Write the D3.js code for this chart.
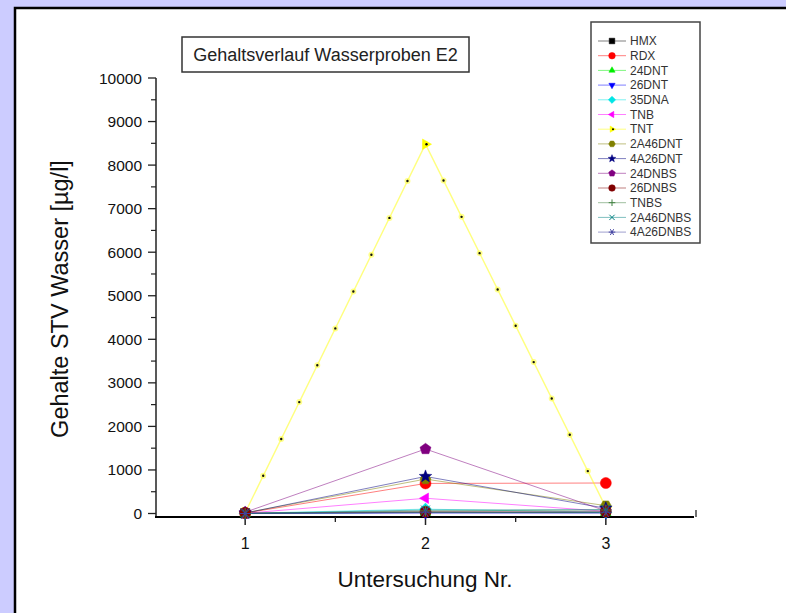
<!DOCTYPE html>
<html><head><meta charset="utf-8">
<script src="https://cdn.jsdelivr.net/npm/d3@7"></script>
<style>body{margin:0;background:#ccccff;}svg{display:block;font-family:"Liberation Sans",Arial,sans-serif;}</style>
</head><body>
<svg id="chart" width="786" height="613"></svg>
<script>
const title = "Gehaltsverlauf Wasserproben E2";
const xLabel = "Untersuchung Nr.";
const yLabel = "Gehalte STV Wasser [\u00b5g/l]";
const xValues = [1, 2, 3];
const xTicks = [1, 2, 3];
const yTicks = [0,1000,2000,3000,4000,5000,6000,7000,8000,9000,10000];
const seriesNames = ["HMX","RDX","24DNT","26DNT","35DNA","TNB","TNT","2A46DNT","4A26DNT","24DNBS","26DNBS","TNBS","2A46DNBS","4A26DNBS"];
const HMX      = [5, 20, 20];
const RDX      = [10, 690, 700];
const DNT24    = [0, 30, 20];
const DNT26    = [0, 10, 10];
const DNA35    = [5, 100, 30];
const TNB      = [5, 350, 50];
const TNT      = [20, 8480, 140];
const A2DNT46  = [15, 790, 180];
const A4DNT26  = [10, 850, 120];
const DNBS24   = [30, 1480, 60];
const DNBS26   = [10, 40, 40];
const TNBS     = [0, 60, 80];
const A2DNBS46 = [0, 80, 90];
const A4DNBS26 = [0, 30, 30];
const seriesValues = [HMX,RDX,DNT24,DNT26,DNA35,TNB,TNT,A2DNT46,A4DNT26,DNBS24,DNBS26,TNBS,A2DNBS46,A4DNBS26];
const colors = ["#000000","#ff0000","#00ee00","#0000ff","#00e5e5","#ff00ff","#ffff00","#808000","#000080","#800080","#800000","#408040","#008080","#4040a0"];
const shapes = ["square","circle","up","down","diamond","left","right","hexagon","star","pentagon","sphere","plus","x","asterisk"];

const svg = d3.select("#chart");
svg.append("rect").attr("x",0).attr("y",0).attr("width",786).attr("height",613).attr("fill","#ccccff");
svg.append("rect").attr("x",14).attr("y",7).attr("width",800).attr("height",700).attr("fill","#fff");
svg.append("path").attr("d","M15,613V8H786").attr("fill","none").attr("stroke","#000").attr("stroke-width",2.5);

const x = d3.scaleLinear().domain([0.5,3.5]).range([155,696]);
const y = d3.scaleLinear().domain([0,10000]).range([513.5,78]);

function poly(n, r, rot){
  const pts=[];
  for(let i=0;i<n;i++){const a=rot+i*2*Math.PI/n;pts.push([r*Math.cos(a),r*Math.sin(a)]);}
  return "M"+pts.map(p=>p[0].toFixed(2)+","+p[1].toFixed(2)).join("L")+"Z";
}
function star(r){
  const pts=[];
  for(let i=0;i<10;i++){const a=-Math.PI/2+i*Math.PI/5;const rr=i%2?r*0.42:r;pts.push([rr*Math.cos(a),rr*Math.sin(a)]);}
  return "M"+pts.map(p=>p[0].toFixed(2)+","+p[1].toFixed(2)).join("L")+"Z";
}
function markerPath(shape, r){
  switch(shape){
    case "square": return `M${-r*0.85},${-r*0.85}h${1.7*r}v${1.7*r}h${-1.7*r}Z`;
    case "circle": case "sphere": {const p=d3.path();p.arc(0,0,r,0,2*Math.PI);return p.toString();}
    case "up": return poly(3,r*1.1,-Math.PI/2);
    case "down": return poly(3,r*1.1,Math.PI/2);
    case "left": return poly(3,r*1.1,Math.PI);
    case "right": return poly(3,r*1.1,0);
    case "diamond": return poly(4,r*1.1,-Math.PI/2);
    case "hexagon": return poly(6,r,0);
    case "pentagon": return poly(5,r*1.05,-Math.PI/2);
    case "star": return star(r*1.2);
    case "plus": return `M${-r},0H${r}M0,${-r}V${r}`;
    case "x": return `M${-r*0.8},${-r*0.8}L${r*0.8},${r*0.8}M${-r*0.8},${r*0.8}L${r*0.8},${-r*0.8}`;
    case "asterisk": return `M${-r},0H${r}M${-r*0.5},${-r*0.87}L${r*0.5},${r*0.87}M${-r*0.5},${r*0.87}L${r*0.5},${-r*0.87}`;
  }
}
function drawMarker(g, shape, color, cx, cy, r){
  const open = ["plus","x","asterisk"].includes(shape);
  const p = g.append("path").attr("transform",`translate(${cx},${cy})`).attr("d",markerPath(shape,r));
  if(open) p.attr("fill","none").attr("stroke",color).attr("stroke-width",1);
  else p.attr("fill",color).attr("stroke",color).attr("stroke-width",0.5);
  if(shape==="right"){ // TNT: black centre dot
    g.append("circle").attr("cx",cx+1).attr("cy",cy).attr("r",Math.max(1,r*0.22)).attr("fill","#000");
  }
}

// axes
const gAxis = svg.append("g");
gAxis.append("line").attr("x1",156).attr("x2",156).attr("y1",y(10000)).attr("y2",517).attr("stroke","#222").attr("stroke-width",1.5);
yTicks.forEach(t=>{
  gAxis.append("line").attr("x1",148).attr("x2",156).attr("y1",y(t)).attr("y2",y(t)).attr("stroke","#222").attr("stroke-width",1.3);
  gAxis.append("text").attr("x",142).attr("y",y(t)+5.5).attr("text-anchor","end").attr("font-size",15.5).attr("fill","#111").text(t);
});
d3.range(500,10000,1000).forEach(t=>{
  gAxis.append("line").attr("x1",151).attr("x2",156).attr("y1",y(t)).attr("y2",y(t)).attr("stroke","#222").attr("stroke-width",1.2);
});
gAxis.append("line").attr("x1",155).attr("x2",694).attr("y1",517).attr("y2",517).attr("stroke","#000").attr("stroke-width",2.2);
xTicks.forEach(t=>{
  gAxis.append("line").attr("x1",x(t)).attr("x2",x(t)).attr("y1",511).attr("y2",525).attr("stroke","#222").attr("stroke-width",1.5);
  gAxis.append("text").attr("x",x(t)).attr("y",549).attr("text-anchor","middle").attr("font-size",16).attr("fill","#111").text(t);
});
[1.5,2.5,3.5].forEach(t=>{
  gAxis.append("line").attr("x1",x(t)).attr("x2",x(t)).attr("y1",t===3.5?510:517).attr("y2",t===3.5?517:522).attr("stroke","#222").attr("stroke-width",1.3);
});

svg.append("text").attr("x",425).attr("y",587).attr("text-anchor","middle").attr("font-size",22.5).attr("fill","#111").text(xLabel);
svg.append("text").attr("transform","translate(68,299) rotate(-90)").attr("text-anchor","middle").attr("font-size",23.5).attr("fill","#111").text(yLabel);

// title box
svg.append("rect").attr("x",182).attr("y",37).attr("width",287).attr("height",35).attr("fill","#fff").attr("stroke","#333").attr("stroke-width",1.5);
svg.append("text").attr("x",325.5).attr("y",61).attr("text-anchor","middle").attr("font-size",18).attr("fill","#222").text(title);

// series
const line = d3.line().x((d,i)=>x(xValues[i])).y(d=>y(d));
const gLines = svg.append("g");
seriesValues.forEach((vals,si)=>{
  gLines.append("path").attr("d",line(vals)).attr("fill","none").attr("stroke",colors[si])
    .attr("stroke-width",si===6?1.4:1).attr("stroke-opacity",0.5);
});
// TNT line dotted decoration (line style)
const tntIdx = 6;
for(let i=0;i<xValues.length-1;i++){
  const seg = d3.line()([[x(xValues[i]),y(seriesValues[tntIdx][i])],[x(xValues[i+1]),y(seriesValues[tntIdx][i+1])]]);
  gLines.append("path").attr("d",seg).attr("pathLength",10).attr("stroke","#ffff40").attr("stroke-opacity",0.6)
    .attr("stroke-width",6).attr("stroke-linecap","round").attr("stroke-dasharray","0 1").attr("fill","none");
  gLines.append("path").attr("d",seg).attr("pathLength",10).attr("stroke","#111")
    .attr("stroke-width",2.4).attr("stroke-linecap","round").attr("stroke-dasharray","0 1").attr("fill","none");
}
const gMarks = svg.append("g");
seriesValues.forEach((vals,si)=>{
  vals.forEach((v,i)=>{
    drawMarker(gMarks, shapes[si], colors[si], x(xValues[i]), y(v), 5.5);
  });
});

// legend
const lg = svg.append("g");
lg.append("rect").attr("x",591).attr("y",22).attr("width",109).attr("height",221).attr("fill","#fff").attr("stroke","#444").attr("stroke-width",1.5);
seriesNames.forEach((n,i)=>{
  const ly = 41 + i*14.7;
  lg.append("line").attr("x1",598).attr("x2",626).attr("y1",ly).attr("y2",ly).attr("stroke",colors[i]).attr("stroke-opacity",0.5).attr("stroke-width",1);
  drawMarker(lg, shapes[i], colors[i], 612, ly, 3.3);
  lg.append("text").attr("x",630).attr("y",ly+4.2).attr("font-size",12).attr("fill","#333").text(n);
});
</script>
</body></html>
